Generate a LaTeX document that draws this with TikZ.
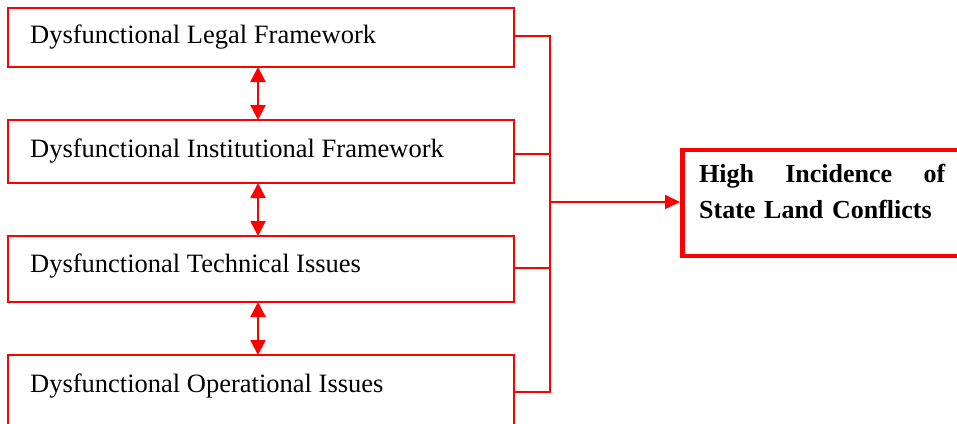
\documentclass[tikz,border=0pt]{standalone}
\usepackage{fontspec}
\setmainfont{Liberation Serif}
\usetikzlibrary{arrows.meta}
\definecolor{redline}{RGB}{255,0,0}
\tikzset{
  cause/.style={draw=redline, line width=2pt, minimum width=506pt, minimum height=60pt, inner sep=0pt},
  causetext/.style={anchor=west, font=\fontsize{26.5}{30}\selectfont, inner sep=0pt},
  link/.style={draw=redline, line width=1.6pt},
  dbl/.style={draw=redline, line width=2.4pt, {Triangle[length=15pt,width=15pt]}-{Triangle[length=15pt,width=15pt]}},
  one/.style={draw=redline, line width=1.8pt, -{Triangle[length=15pt,width=14pt]}}
}
\begin{document}
\begin{tikzpicture}[x=1pt,y=-1pt]
\useasboundingbox (0,0) rectangle (957,423);
\clip (0,0) rectangle (957,423);
% boxes
\node[cause, minimum height=59pt] (b1) at (261,37.5) {};
\node[cause, minimum height=63pt] (b2) at (261,151.5) {};
\node[cause, minimum height=66pt] (b3) at (261,269) {};
\node[cause, minimum height=70pt] (b4) at (261,390) {};
\node[causetext] (t1) at (30,37) {Dysfunctional Legal Framework};
\node[causetext] (t2) at (30,151) {Dysfunctional Institutional Framework};
\node[causetext] (t3) at (30,266) {Dysfunctional Technical Issues};
\node[causetext] (t4) at (30,386) {Dysfunctional Operational Issues};
% effect box
\node[draw=redline, line width=4.5pt, minimum width=320pt, minimum height=106pt, inner sep=0pt, anchor=north west] (eff) at (680,147.5) {};
\node[anchor=north west, text width=246pt, align=left, inner sep=0pt, font=\bfseries\fontsize{26}{36}\selectfont] (efft) at (699,164) {High\hfill Incidence\hfill of\\State Land Conflicts};
% bus
\coordinate (bt) at (550,36);
\coordinate (bb) at (550,392);
\coordinate (bm) at (550,202);
\draw[link] (b1.east |- bt) -- (bt) -- (bb) -- (b4.east |- bb);
\draw[link] (b2.east |- 0,154) -- (550,154);
\draw[link] (b3.east |- 0,268) -- (550,268);
\draw[one] (bm) -- (eff.west |- bm);
% double arrows
\draw[dbl] (258,67) -- (258,120);
\draw[dbl] (258,183) -- (258,236);
\draw[dbl] (258,302) -- (258,355);
\end{tikzpicture}
\end{document}
